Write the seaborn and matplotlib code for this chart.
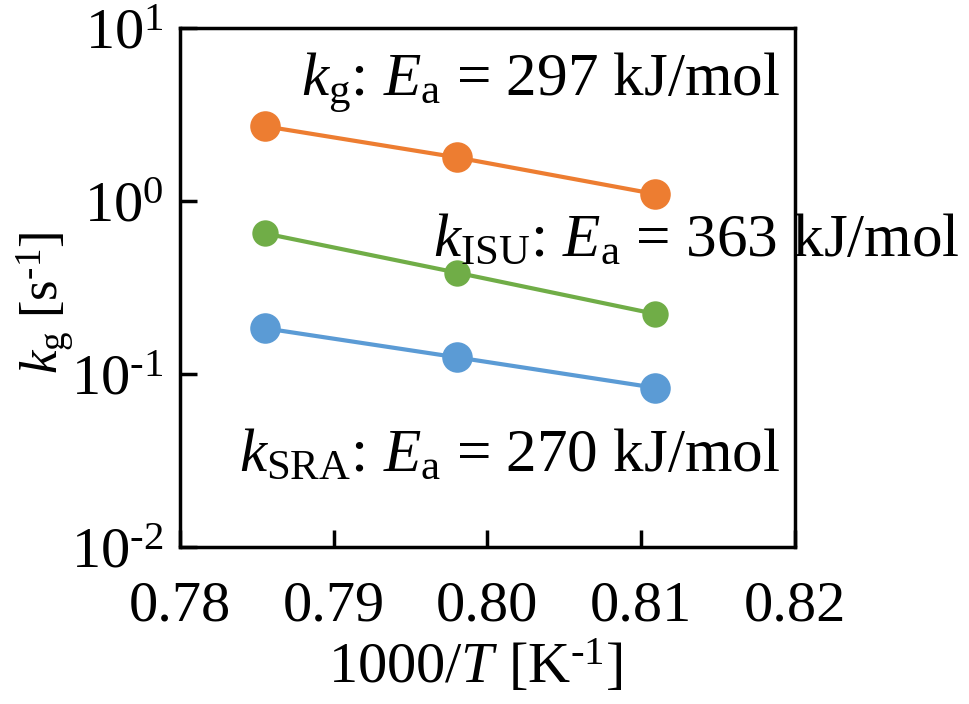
import matplotlib
matplotlib.use("Agg")
import matplotlib.pyplot as plt
import seaborn as sns
import pandas as pd

# 1000/T for 1000, 980 and 960 degC
inv_T = [0.7855, 0.7980, 0.8109]
k_g = [2.71, 1.79, 1.10]
k_isu = [0.651, 0.386, 0.223]
k_sra = [0.184, 0.125, 0.0834]

series = ["kg", "kISU", "kSRA"]
colors = {"kg": "#ED7D31", "kISU": "#70AD47", "kSRA": "#5B9BD5"}
msizes = {"kg": 22, "kISU": 19, "kSRA": 22}

x_ticks = [0.78, 0.79, 0.80, 0.81, 0.82]
x_ticklabels = ["0.78", "0.79", "0.80", "0.81", "0.82"]
y_ticks = [1e-2, 1e-1, 1e0, 1e1]
HY = "\u2010"  # short hyphen like the original superscripts
y_ticklabels = ["$10^{%s2}$" % HY, "$10^{%s1}$" % HY, "$10^{0}$", "$10^{1}$"]

df = pd.DataFrame({
    "x": inv_T * 3,
    "k": k_g + k_isu + k_sra,
    "series": [s for s in series for _ in inv_T],
})

sns.set_style("ticks")
plt.rcParams["font.family"] = ["Liberation Serif", "DejaVu Serif"]
plt.rcParams["mathtext.fontset"] = "custom"
plt.rcParams["mathtext.rm"] = "Liberation Serif"
plt.rcParams["mathtext.it"] = "Liberation Serif:italic"
for key in ["text.color", "axes.labelcolor", "xtick.color", "ytick.color"]:
    plt.rcParams[key] = "black"

fig = plt.figure(figsize=(9.69, 7.04), dpi=100)
ax = fig.add_axes([0.186, 0.223, 0.634, 0.737])

for s in series:
    sns.lineplot(data=df[df.series == s], x="x", y="k", color=colors[s],
                 marker="o", markersize=msizes[s], markeredgewidth=0,
                 linewidth=3, ax=ax, legend=False)

ax.set_yscale("log")
ax.set_ylim(1e-2, 1e1)
ax.set_xlim(0.78, 0.82)
ax.set_xticks(x_ticks)
ax.set_xticklabels(x_ticklabels)
ax.set_yticks(y_ticks)
ax.set_yticklabels(y_ticklabels)
ax.yaxis.set_minor_locator(matplotlib.ticker.NullLocator())

for sp in ax.spines.values():
    sp.set_linewidth(2.5)
    sp.set_color("black")
ax.tick_params(direction="in", length=12, width=2.5, labelsize=42,
               colors="black")
ax.tick_params(axis="x", pad=24)
ax.tick_params(axis="y", pad=12)

ax.set_xlabel(r"1000/$T$ [K$^{%s1}$]" % HY, fontsize=42)
ax.set_ylabel(r"$k_{\mathrm{g}}$ [s$^{%s1}$]" % HY, fontsize=38)
ax.xaxis.set_label_coords(0.48, -0.175)
ax.yaxis.set_label_coords(-0.17, 0.47)

ax.text(0.976, 0.895, r"$k_{\mathrm{g}}$: $E_{\mathrm{a}}$ = 297 kJ/mol",
        transform=ax.transAxes, ha="right", va="center", fontsize=44)
ax.text(1.268, 0.59, r"$k_{\mathrm{ISU}}$: $E_{\mathrm{a}}$ = 363 kJ/mol",
        transform=ax.transAxes, ha="right", va="center", fontsize=44,
        clip_on=False)
ax.text(0.976, 0.175, r"$k_{\mathrm{SRA}}$: $E_{\mathrm{a}}$ = 270 kJ/mol",
        transform=ax.transAxes, ha="right", va="center", fontsize=44)

fig.savefig("out.png", dpi=100)
